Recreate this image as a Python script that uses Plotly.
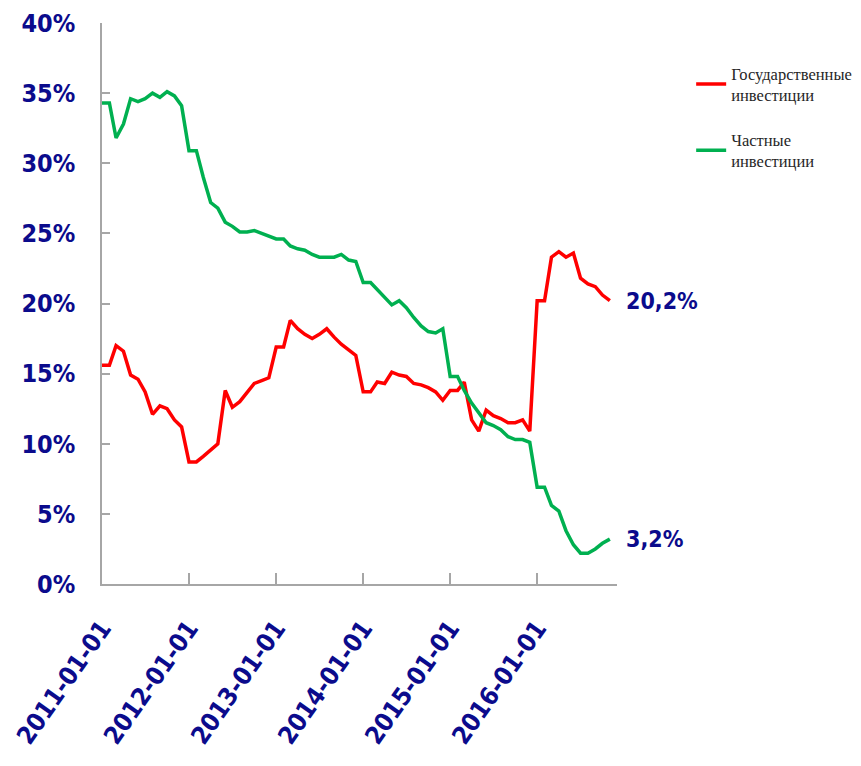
import plotly.graph_objects as go
import pandas as pd

# monthly values, Jan 2011 - Nov 2016 (share, %)
months = pd.date_range("2011-01-01", "2016-11-01", freq="MS")

state_inv = [15.6, 15.6, 17.0, 16.6, 14.9, 14.6, 13.7, 12.1, 12.7, 12.5, 11.7, 11.2,
             8.7, 8.7, 9.1, 9.6, 10.0, 13.8, 12.6, 13.0, 13.7, 14.3, 14.5, 14.7,
             16.9, 16.9, 18.8, 18.2, 17.8, 17.5, 17.8, 18.2, 17.6, 17.1, 16.7, 16.3,
             13.7, 13.7, 14.4, 14.3, 15.1, 14.9, 14.8, 14.3, 14.2, 14.0, 13.7, 13.1,
             13.8, 13.8, 14.4, 11.7, 10.9, 12.4, 12.0, 11.8, 11.5, 11.5, 11.7, 10.9,
             20.2, 20.2, 23.3, 23.7, 23.3, 23.6, 21.8, 21.4, 21.2, 20.6, 20.2]

private_inv = [34.3, 34.3, 31.8, 32.8, 34.6, 34.4, 34.6, 35.0, 34.7, 35.1, 34.8, 34.1,
               30.9, 30.9, 29.0, 27.2, 26.8, 25.8, 25.5, 25.1, 25.1, 25.2, 25.0, 24.8,
               24.6, 24.6, 24.1, 23.9, 23.8, 23.5, 23.3, 23.3, 23.3, 23.5, 23.1, 23.0,
               21.5, 21.5, 21.0, 20.5, 19.9, 20.2, 19.7, 19.0, 18.4, 18.0, 17.9, 18.2,
               14.8, 14.8, 13.8, 12.9, 12.2, 11.5, 11.3, 11.0, 10.5, 10.3, 10.3, 10.1,
               6.9, 6.9, 5.6, 5.2, 3.8, 2.8, 2.2, 2.2, 2.5, 2.9, 3.2]

names = ["Государственные<br>инвестиции", "Частные<br>инвестиции"]
end_labels = ["20,2%", "3,2%"]
year_ticks = ["2011-01-01", "2012-01-01", "2013-01-01", "2014-01-01", "2015-01-01", "2016-01-01"]

navy = "#0b0b8c"
axis_grey = "#a6a6a6"
bold_font = "DejaVu Sans Condensed, Liberation Sans Narrow, Arial Narrow, sans-serif"
legend_font = dict(family="Liberation Serif, Times New Roman, serif", size=16.5, color="#262626")

fig = go.Figure()
fig.add_trace(go.Scatter(x=months, y=state_inv, name=names[0], mode="lines",
                         line=dict(color="#ff0000", width=3.5), legend="legend"))
fig.add_trace(go.Scatter(x=months, y=private_inv, name=names[1], mode="lines",
                         line=dict(color="#00b050", width=3.5), legend="legend2"))

# подписи последних значений справа от линий
for vals, txt in zip([state_inv, private_inv], end_labels):
    fig.add_annotation(x=months[-1], y=vals[-1], text="<b>" + txt + "</b>",
                       xref="x", yref="y", xanchor="left", yanchor="middle",
                       xshift=14, showarrow=False,
                       font=dict(family=bold_font, size=23, color=navy))

fig.update_xaxes(
    type="date", range=["2011-01-01", "2016-12-01"], automargin=False,
    tickvals=year_ticks, ticktext=["<b>" + t + "</b>" for t in year_ticks],
    tickangle=-55, ticks="inside", ticklen=11, tickcolor=axis_grey, tickwidth=1.5,
    showline=True, linecolor=axis_grey, linewidth=1.5, showgrid=False, zeroline=False,
    ticklabelstandoff=18,
    tickfont=dict(family=bold_font, size=25, color=navy),
)
fig.update_yaxes(
    range=[0, 40], automargin=False,
    tickvals=[0, 5, 10, 15, 20, 25, 30, 35, 40],
    ticktext=["<b>%d%%</b>" % v for v in [0, 5, 10, 15, 20, 25, 30, 35, 40]],
    ticks="inside", ticklen=8, tickcolor=axis_grey, tickwidth=1.5,
    showline=True, linecolor=axis_grey, linewidth=1.5, showgrid=False, zeroline=False,
    ticklabelstandoff=20,
    tickfont=dict(family=bold_font, size=25, color=navy),
)

# страница добавляет отступ 8px, поэтому фигура чуть меньше окна;
# легенды справа не должны сжимать область графика
fig.update_layout(
    width=853, height=758,
    margin=dict(l=94, r=244, t=15, b=182, autoexpand=False),
    paper_bgcolor="white", plot_bgcolor="white",
    showlegend=True,
    legend=dict(x=1.144, y=0.941, xanchor="left", yanchor="top",
                font=legend_font, itemwidth=30, bgcolor="rgba(0,0,0,0)"),
    legend2=dict(x=1.144, y=0.823, xanchor="left", yanchor="top",
                 font=legend_font, itemwidth=30, bgcolor="rgba(0,0,0,0)"),
)

fig.write_html("out.html")
